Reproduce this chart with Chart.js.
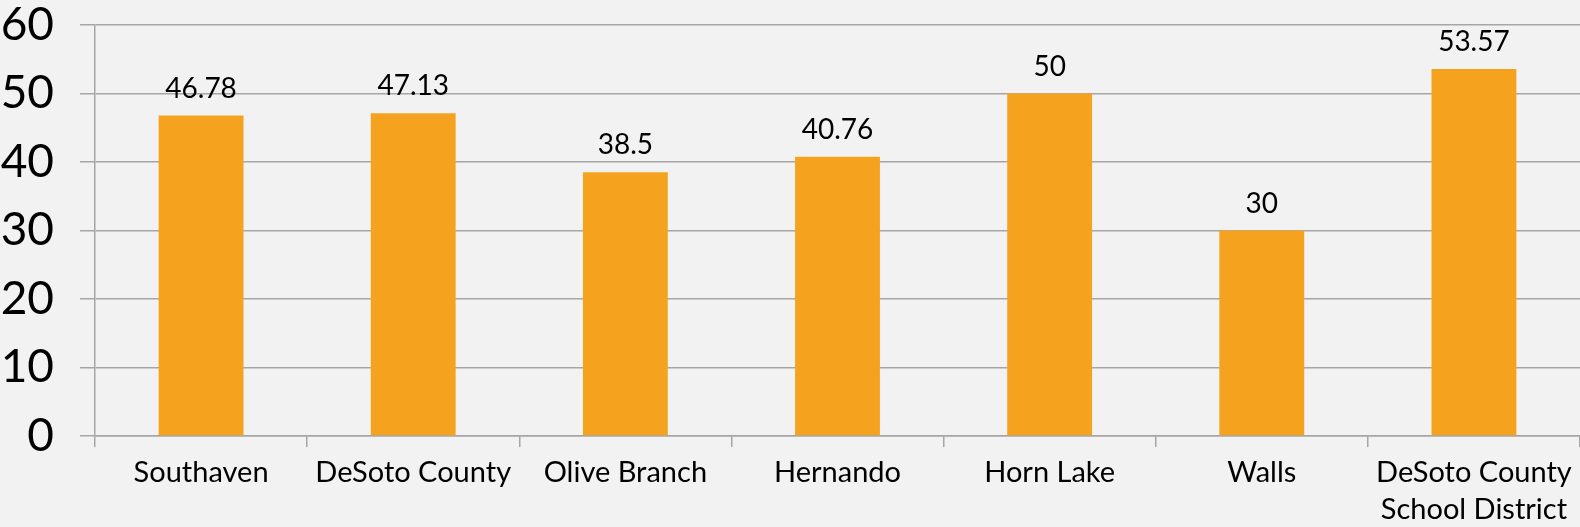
<!DOCTYPE html>
<html>
<head>
<meta charset="utf-8">
<script src="https://cdn.jsdelivr.net/npm/chart.js@4/dist/chart.umd.min.js"></script>
<style>
  html, body { margin: 0; padding: 0; background: #f2f2f2; }
  #wrap { width: 1580px; height: 527px; }
</style>
</head>
<body>
<div id="wrap"><canvas id="chart" width="1580" height="527"></canvas></div>
<script>
const categories = ['Southaven', 'DeSoto County', 'Olive Branch', 'Hernando', 'Horn Lake', 'Walls', ['DeSoto County', 'School District']];
const values = [46.78, 47.13, 38.5, 40.76, 50, 30, 53.57];
const yTicks = [0, 10, 20, 30, 40, 50, 60];

const FONT = 'Lato, "DejaVu Sans", sans-serif';
const GRID = '#a6a6a6';

// draws the value above each bar, like the data labels in the original
const valueLabels = {
  id: 'valueLabels',
  afterDatasetsDraw(chart) {
    const ctx = chart.ctx;
    const meta = chart.getDatasetMeta(0);
    ctx.save();
    ctx.font = '28px ' + FONT;
    ctx.fillStyle = '#000';
    ctx.textAlign = 'center';
    ctx.textBaseline = 'alphabetic';
    meta.data.forEach((bar, i) => {
      ctx.fillText(String(values[i]), bar.x, bar.y - 18);
    });
    ctx.restore();
  }
};

new Chart(document.getElementById('chart'), {
  type: 'bar',
  data: {
    labels: categories,
    datasets: [{
      data: values,
      backgroundColor: '#f5a31f',
      borderWidth: 0,
      categoryPercentage: 0.8,
      barPercentage: 0.5
    }]
  },
  options: {
    responsive: false,
    animation: false,
    layout: { padding: { top: 0, right: 0, left: 0, bottom: 0 } },
    plugins: { legend: { display: false }, tooltip: { enabled: false } },
    scales: {
      y: {
        min: 0,
        max: 60,
        afterBuildTicks(scale) { scale.ticks = yTicks.map(v => ({ value: v })); },
        afterFit(scale) { scale.width = 95; scale.paddingTop = 25; },
        grid: { color: GRID, lineWidth: 1.5, tickLength: 15, drawTicks: true },
        border: { color: GRID, width: 1.5 },
        ticks: { color: '#000', font: { family: FONT, size: 46, lineHeight: 1.1 }, padding: 26 }
      },
      x: {
        afterFit(scale) { scale.height = 91; },
        grid: { drawOnChartArea: false, color: GRID, lineWidth: 1.5, tickLength: 11, offset: true },
        border: { color: GRID, width: 1.5 },
        ticks: { color: '#000', font: { family: FONT, size: 29, lineHeight: 1.25 }, padding: 8, maxRotation: 0, autoSkip: false }
      }
    }
  },
  plugins: [valueLabels, {
    id: 'bg',
    beforeDraw(chart) {
      const c = chart.ctx;
      c.save();
      c.fillStyle = '#f2f2f2';
      c.fillRect(0, 0, chart.width, chart.height);
      c.restore();
    }
  }]
});
</script>
</body>
</html>
